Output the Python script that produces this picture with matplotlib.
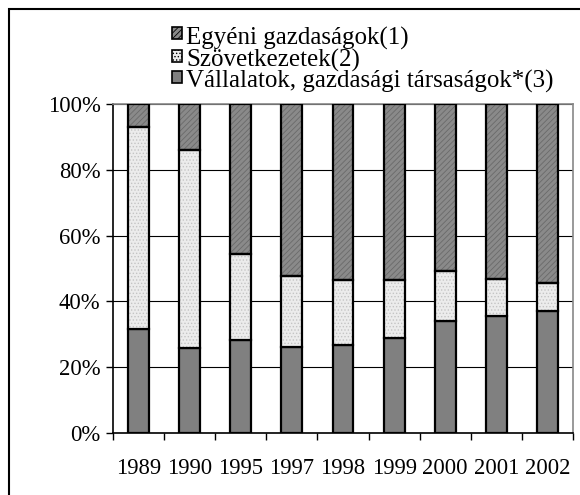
import numpy as np
import matplotlib.pyplot as plt
from matplotlib.patches import Rectangle
from matplotlib.ticker import PercentFormatter

plt.rcParams['font.family'] = ['Liberation Serif', 'DejaVu Serif']
plt.rcParams['hatch.linewidth'] = 0.6

years = ["1989", "1990", "1995", "1997", "1998", "1999", "2000", "2001", "2002"]
# share of bottom segment (Vállalatok...) and cumulative top of middle segment, in %
vallalatok = [31.7, 25.8, 28.3, 26.0, 26.6, 29.0, 34.0, 35.6, 37.2]
szov_top = [92.9, 86.1, 54.5, 47.7, 46.4, 46.5, 49.2, 46.7, 45.5]
szovetkezetek = [t - b for t, b in zip(szov_top, vallalatok)]
egyeni = [100 - t for t in szov_top]

W, H = 580, 495
fig = plt.figure(figsize=(W / 100, H / 100), dpi=100)
ax = fig.add_axes([113 / W, 1 - 433 / H, 460 / W, 329 / H])

x = np.arange(len(years))
w = 0.41
ax.bar(x, vallalatok, w, color='#808080', edgecolor='black', linewidth=1.6, zorder=3)
ax.bar(x, szovetkezetek, w, bottom=vallalatok, color='#ececec', edgecolor='#c4c4c4',
       hatch='.....', linewidth=0, zorder=3)
ax.bar(x, szovetkezetek, w, bottom=vallalatok, fill=False, edgecolor='black', linewidth=1.6, zorder=4)
ax.bar(x, egyeni, w, bottom=szov_top, color='#8a8a8a', edgecolor='#6a6a6a',
       hatch='//////', linewidth=0, zorder=3)
ax.bar(x, egyeni, w, bottom=szov_top, fill=False, edgecolor='black', linewidth=1.6, zorder=4)

ax.set_xlim(-0.5, len(years) - 0.5)
ax.set_ylim(0, 100)
ax.set_yticks(np.arange(0, 101, 20))
ax.yaxis.set_major_formatter(PercentFormatter(decimals=0))
ax.set_xticks(x)
ax.set_xticklabels(years)
ax.set_xticks(np.arange(-0.5, len(years), 1), minor=True)
ax.tick_params(axis='x', which='major', length=0, pad=18, labelsize=16.3)
ax.tick_params(axis='x', which='minor', length=5, width=1, direction='out')
ax.tick_params(axis='y', length=5, width=1, pad=4, labelsize=16.3)
ax.grid(axis='y', color='black', linewidth=0.8, zorder=0)

ax.spines['left'].set_color('black')
ax.spines['bottom'].set_color('black')
ax.spines['top'].set_color('#888888')
ax.spines['right'].set_color('#888888')
for s in ax.spines.values():
    s.set_linewidth(1.2)

# legend, laid out by hand in pixel positions
labels = ["Egyéni gazdaságok(1)", "Szövetkezetek(2)", "Vállalatok, gazdasági társaságok*(3)"]
styles = [dict(facecolor='#8a8a8a', hatch='//////'),
          dict(facecolor='#ececec', hatch='.....'),
          dict(facecolor='#808080')]
text_rows = [38, 60, 81]
box_rows = [33, 56, 77]
for lab, st, yt, yb in zip(labels, styles, text_rows, box_rows):
    fig.patches.append(Rectangle((172 / W, 1 - (yb + 5.5) / H), 10 / W, 11 / H,
                                 transform=fig.transFigure, edgecolor='black',
                                 linewidth=1.2, **st))
    fig.text(186 / W, 1 - yt / H, lab, fontsize=18, va='center', ha='left')

fig.patches.append(Rectangle((9 / W, -0.1), 1.2, 1 - 9 / H + 0.1, transform=fig.transFigure,
                             fill=False, edgecolor='black', linewidth=1.5))

fig.savefig('out.png', dpi=100)
